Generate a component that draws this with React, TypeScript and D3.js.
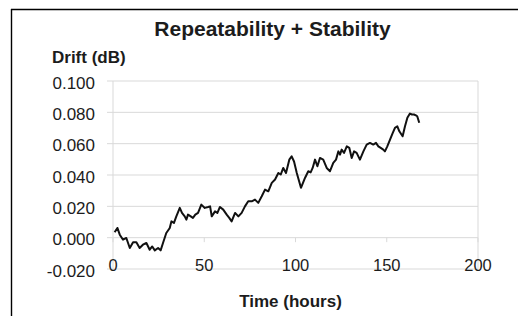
import React from "react";
import * as d3 from "d3";

const hours = [0.9, 2.4, 3.7, 5.5, 7.3, 9.2, 11.0, 12.8, 14.6, 16.4, 18.3, 20.1, 21.5, 22.9, 24.7, 26.1, 27.4, 29.2, 31.1, 32.0, 33.4, 34.7, 36.6, 37.8, 39.3, 40.2, 41.1, 42.6, 43.8, 45.1, 46.6, 48.4, 50.3, 52.1, 53.2, 54.1, 55.9, 57.2, 58.6, 60.4, 62.3, 63.7, 65.0, 66.9, 68.7, 70.5, 72.3, 74.1, 76.0, 77.8, 79.6, 81.5, 83.3, 85.1, 87.0, 88.8, 90.6, 91.9, 93.3, 94.8, 96.6, 97.9, 99.2, 100.7, 103.0, 105.2, 107.0, 108.3, 109.4, 110.7, 112.0, 113.4, 115.2, 117.1, 118.9, 120.7, 122.2, 123.5, 124.4, 125.3, 126.6, 128.1, 129.5, 130.8, 132.1, 133.5, 135.3, 137.2, 139.0, 140.8, 142.6, 144.1, 145.4, 146.7, 148.1, 149.0, 150.3, 151.8, 153.3, 154.5, 155.8, 156.9, 158.7, 160.0, 161.3, 162.7, 163.8, 164.9, 166.0, 166.7, 167.8];
const drift = [0.0034, 0.0062, 0.0019, -0.0013, -0.0002, -0.0066, -0.003, -0.003, -0.0066, -0.0045, -0.0034, -0.0077, -0.0056, -0.0081, -0.0066, -0.0081, -0.0034, 0.003, 0.0062, 0.0104, 0.0094, 0.0136, 0.019, 0.0158, 0.0136, 0.0115, 0.0147, 0.0136, 0.0126, 0.0147, 0.0158, 0.0211, 0.019, 0.0196, 0.02, 0.0136, 0.0168, 0.0158, 0.0196, 0.0179, 0.0147, 0.0126, 0.0104, 0.0158, 0.0136, 0.0158, 0.02, 0.0232, 0.0232, 0.0243, 0.0222, 0.0264, 0.0307, 0.0296, 0.035, 0.0371, 0.0413, 0.0403, 0.0445, 0.0413, 0.0498, 0.0519, 0.0486, 0.0413, 0.0318, 0.0381, 0.0424, 0.0417, 0.0445, 0.0498, 0.0456, 0.0509, 0.0498, 0.0445, 0.0424, 0.0477, 0.0498, 0.0551, 0.053, 0.0562, 0.0541, 0.0583, 0.0573, 0.0509, 0.0551, 0.0541, 0.0498, 0.0551, 0.0594, 0.0605, 0.0594, 0.0605, 0.0583, 0.0573, 0.0562, 0.0551, 0.0583, 0.0626, 0.0669, 0.0701, 0.0711, 0.0679, 0.0647, 0.0711, 0.0765, 0.0792, 0.0786, 0.0786, 0.078, 0.0775, 0.0733];

const yTicks = [-0.02, 0, 0.02, 0.04, 0.06, 0.08, 0.1];
const xTicks = [0, 50, 100, 150, 200];

const title = "Repeatability + Stability";
const yTitle = "Drift (dB)";
const xTitle = "Time (hours)";

export default function App() {
  const W = 518, H = 316;
  const x = d3.scaleLinear().domain([0, 200]).range([113, 478]);
  const y = d3.scaleLinear().domain([-0.02, 0.1]).range([269, 81]);
  const pts: [number, number][] = hours.map((h, i) => [h, drift[i]]);
  const line = d3.line<[number, number]>().x(d => x(d[0])).y(d => y(d[1]));
  const font = "'Liberation Sans', Arial, sans-serif";
  const grid = "#d9d9d9";
  const txt = "#1c1c1c";
  return (
    <svg width={W} height={H} style={{ position: "absolute", left: 0, top: 0, background: "#fff" }} fontFamily={font}>
      <rect x={0} y={0} width={W} height={H} fill="#fff" />
      <line x1={11} x2={W} y1={9.5} y2={9.5} stroke="#000" strokeWidth={1.4} />
      <line x1={11.5} x2={11.5} y1={9} y2={H} stroke="#000" strokeWidth={1.4} />
      {yTicks.map(t => (
        <line key={"g" + t} x1={107} x2={x(200)} y1={y(t)} y2={y(t)} stroke={grid} strokeWidth={1} />
      ))}
      <line x1={x(0)} x2={x(0)} y1={y(0.1)} y2={y(-0.02)} stroke={grid} strokeWidth={1} />
      <line x1={x(200)} x2={x(200)} y1={y(0.1)} y2={y(-0.02)} stroke={grid} strokeWidth={1} />
      {xTicks.map(t => (
        <line key={"xt" + t} x1={x(t)} x2={x(t)} y1={y(0)} y2={y(0) + 4.5} stroke={grid} strokeWidth={1} />
      ))}
      {yTicks.map(t => (
        <text key={"yl" + t} x={95} y={y(t) + 7.5} textAnchor="end" fontSize={17} fill={txt}>
          {t.toFixed(3)}
        </text>
      ))}
      {xTicks.map(t => (
        <text key={"xl" + t} x={x(t)} y={270.5} textAnchor="middle" fontSize={16.5} fill={txt}>
          {t}
        </text>
      ))}
      <path d={line(pts) || ""} fill="none" stroke="#111" strokeWidth={2} strokeLinejoin="round" />
      <text x={272.5} y={35.7} textAnchor="middle" fontSize={21} fontWeight="bold" fill={txt}>{title}</text>
      <text x={52} y={62.5} fontSize={17} fontWeight="bold" fill={txt}>{yTitle}</text>
      <text x={290.5} y={306.7} textAnchor="middle" fontSize={17} fontWeight="bold" fill={txt}>{xTitle}</text>
    </svg>
  );
}
